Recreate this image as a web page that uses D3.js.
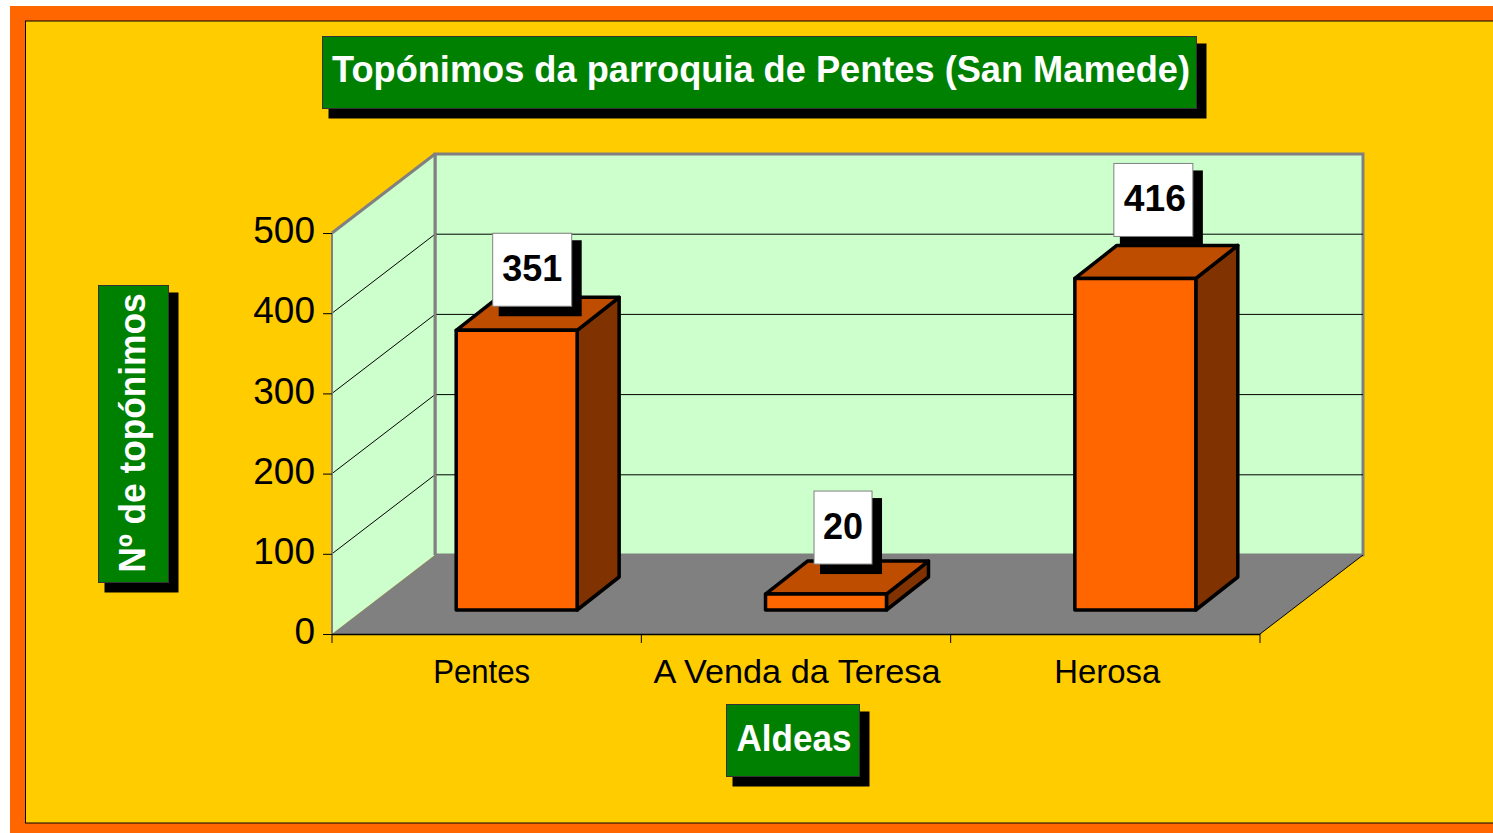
<!DOCTYPE html>
<html>
<head>
<meta charset="utf-8">
<script src="https://cdn.jsdelivr.net/npm/d3@7"></script>
<style>
  html, body { margin: 0; padding: 0; background: #fff; overflow: hidden; }
  svg { display: block; }
  text { font-family: "Liberation Sans", Arial, sans-serif; }
</style>
</head>
<body>
<div id="figure"></div>
<script>
// values
const categories = ["Pentes", "A Venda da Teresa", "Herosa"];
const values = [351, 20, 416];
const yTicks = [0, 100, 200, 300, 400, 500];
const titleText = "Topónimos da parroquia de Pentes (San Mamede)";
const yTitleText = "Nº de topónimos";
const xTitleText = "Aldeas";

const width = 1493, height = 833;

// wall depth of the 3d box, and of the bars inside it
const depth = {x: 103, y: -79};
const barDepth = {x: 42, y: -33};
const barInset = {x: 30, y: -24};

// small nudges, the labels are not quite centred in the original
const catNudge = [-5, 1, 2];
const catWidths = [97, 287, 106];
const labelRaise = [24, 30, 42];
const labelShift = [76, 77.5, 78.5];
const labelTextWidths = [60, 40, 62];
const labelTextNudge = [0, 0, 1.5];

const svg = d3.select("#figure").append("svg")
  .attr("width", width)
  .attr("height", height);

svg.append("rect").attr("x", 10).attr("y", 6).attr("width", width - 10).attr("height", height - 6).attr("fill", "#ff6600");
svg.append("rect").attr("x", 25.5).attr("y", 21).attr("width", width).attr("height", 802)
  .attr("fill", "#ffcc00").attr("stroke", "#000").attr("stroke-width", 1);

const x = d3.scaleBand().domain(categories).range([332, 1260]).paddingInner(0.609).paddingOuter(0.3045);
const y = d3.scaleLinear().domain([0, 500]).range([634, 233]);
const x0 = x.range()[0], x1 = x.range()[1];

// bars stand a bit inside the box, so they get their own slightly flatter scale
const base = y(0) + barInset.y;
const yBar = d3.scaleLinear().domain([0, 500]).range([base, base - 398.5]);

const pts = a => a.map(p => p.join(",")).join(" ");

// back wall
svg.append("rect")
  .attr("x", x0 + depth.x).attr("y", y(500) + depth.y)
  .attr("width", x1 - x0).attr("height", y(0) - y(500))
  .attr("fill", "#ccffcc").attr("stroke", "#808080").attr("stroke-width", 3);

// side wall
svg.append("polygon")
  .attr("points", pts([[x0, y(500)], [x0 + depth.x, y(500) + depth.y], [x0 + depth.x, y(0) + depth.y], [x0, y(0)]]))
  .attr("fill", "#ccffcc");

// grid lines, back and side
const grid = svg.append("g").attr("stroke", "#000").attr("stroke-width", 1);
yTicks.slice(1, -1).forEach(v => {
  grid.append("line").attr("x1", x0).attr("y1", y(v)).attr("x2", x0 + depth.x).attr("y2", y(v) + depth.y);
  grid.append("line").attr("x1", x0 + depth.x).attr("y1", y(v) + depth.y).attr("x2", x1 + depth.x).attr("y2", y(v) + depth.y);
});

// gray frame of the side wall
const frame = svg.append("g").attr("stroke", "#808080").attr("fill", "none");
frame.append("line").attr("x1", x0).attr("y1", y(500)).attr("x2", x0 + depth.x).attr("y2", y(500) + depth.y).attr("stroke-width", 3);
frame.append("line").attr("x1", x0 + depth.x).attr("y1", y(500) + depth.y).attr("x2", x0 + depth.x).attr("y2", y(0) + depth.y).attr("stroke-width", 3);
frame.append("line").attr("x1", x0).attr("y1", y(500)).attr("x2", x0).attr("y2", y(0)).attr("stroke-width", 2);

// floor
svg.append("polygon")
  .attr("points", pts([[x0, y(0)], [x0 + depth.x, y(0) + depth.y], [x1 + depth.x, y(0) + depth.y], [x1, y(0)]]))
  .attr("fill", "#808080");
svg.append("line")
  .attr("x1", x1).attr("y1", y(0)).attr("x2", x1 + depth.x).attr("y2", y(0) + depth.y)
  .attr("stroke", "#000").attr("stroke-width", 1);

// axes
const yAxis = svg.append("g")
  .attr("transform", `translate(${x0},0)`)
  .call(d3.axisLeft(y).tickValues(yTicks).tickSize(9).tickPadding(8));
yAxis.select(".domain").remove();
yAxis.selectAll("text")
  .attr("font-size", 37).attr("fill", "#000")
  .attr("dy", "0.26em");

const xAxis = svg.append("g")
  .attr("transform", `translate(0,${y(0)})`)
  .call(d3.axisBottom(x).tickSize(0).tickPadding(0));
xAxis.select(".domain").attr("d", `M${x0},0.5H${x1}`).attr("stroke", "#000").attr("stroke-width", 1.5);
xAxis.selectAll(".tick line").remove();
xAxis.selectAll("text")
  .attr("font-size", 33).attr("fill", "#000")
  .attr("x", (d, i) => catNudge[i])
  .attr("y", 49).attr("dy", 0)
  .attr("textLength", (d, i) => catWidths[i])
  .attr("lengthAdjust", "spacingAndGlyphs");

// category separators under the axis
const step = x.step();
xAxis.selectAll("line.sep")
  .data(d3.range(categories.length + 1))
  .join("line")
  .attr("class", "sep")
  .attr("x1", i => x0 + i * step).attr("x2", i => x0 + i * step)
  .attr("y1", 0).attr("y2", 9)
  .attr("stroke", "#000").attr("stroke-width", 1);

// bars
const bars = svg.append("g")
  .attr("stroke", "#000").attr("stroke-width", 3.5).attr("stroke-linejoin", "round");

const rows = categories.map((c, i) => ({cat: c, value: values[i], i: i}));
const bx = d => x(d.cat) + barInset.x;

rows.forEach(d => {
  const l = bx(d), r = l + x.bandwidth(), t = yBar(d.value);
  bars.append("polygon").attr("fill", "#803300")
    .attr("points", pts([[r, t], [r + barDepth.x, t + barDepth.y], [r + barDepth.x, base + barDepth.y], [r, base]]));
  bars.append("polygon").attr("fill", "#bf4d00")
    .attr("points", pts([[l, t], [l + barDepth.x, t + barDepth.y], [r + barDepth.x, t + barDepth.y], [r, t]]));
  bars.append("rect").attr("fill", "#ff6600")
    .attr("x", l).attr("y", t).attr("width", x.bandwidth()).attr("height", base - t);
});

// box with a hard black shadow, used for titles and data labels
function shadowBox(bx0, by0, w, h, fill, stroke) {
  svg.append("rect").attr("x", bx0 + 6).attr("y", by0 + 7).attr("width", w + 4).attr("height", h + 3).attr("fill", "#000");
  svg.append("rect").attr("x", bx0).attr("y", by0).attr("width", w).attr("height", h)
    .attr("fill", fill).attr("stroke", stroke).attr("stroke-width", 1);
}

// data labels
rows.forEach(d => {
  const str = String(d.value);
  const w = str.length > 2 ? 79 : 58;
  const left = bx(d) + labelShift[d.i] - w / 2;
  const top = yBar(d.value) - labelRaise[d.i] - 73;
  shadowBox(left, top, w, 73, "#fff", "#808080");
  svg.append("text")
    .attr("x", left + w / 2 + labelTextNudge[d.i]).attr("y", top + 48)
    .attr("text-anchor", "middle").attr("font-size", 36).attr("font-weight", "bold").attr("fill", "#000")
    .attr("textLength", labelTextWidths[d.i]).attr("lengthAdjust", "spacingAndGlyphs")
    .text(str);
});

// titles
shadowBox(322.5, 36.5, 874, 72, "#008000", "#333");
svg.append("text").attr("x", 761).attr("y", 82)
  .attr("text-anchor", "middle").attr("font-size", 37).attr("font-weight", "bold").attr("fill", "#fff")
  .attr("textLength", 858).attr("lengthAdjust", "spacingAndGlyphs")
  .text(titleText);

shadowBox(726.5, 704.5, 133, 72, "#008000", "#333");
svg.append("text").attr("x", 794).attr("y", 751)
  .attr("text-anchor", "middle").attr("font-size", 37).attr("font-weight", "bold").attr("fill", "#fff")
  .attr("textLength", 115).attr("lengthAdjust", "spacingAndGlyphs")
  .text(xTitleText);

shadowBox(98.5, 285.5, 70, 297, "#008000", "#333");
svg.append("text")
  .attr("transform", "translate(145,433) rotate(-90)")
  .attr("text-anchor", "middle").attr("font-size", 37).attr("font-weight", "bold").attr("fill", "#fff")
  .attr("textLength", 279).attr("lengthAdjust", "spacingAndGlyphs")
  .text(yTitleText);
</script>
</body>
</html>
